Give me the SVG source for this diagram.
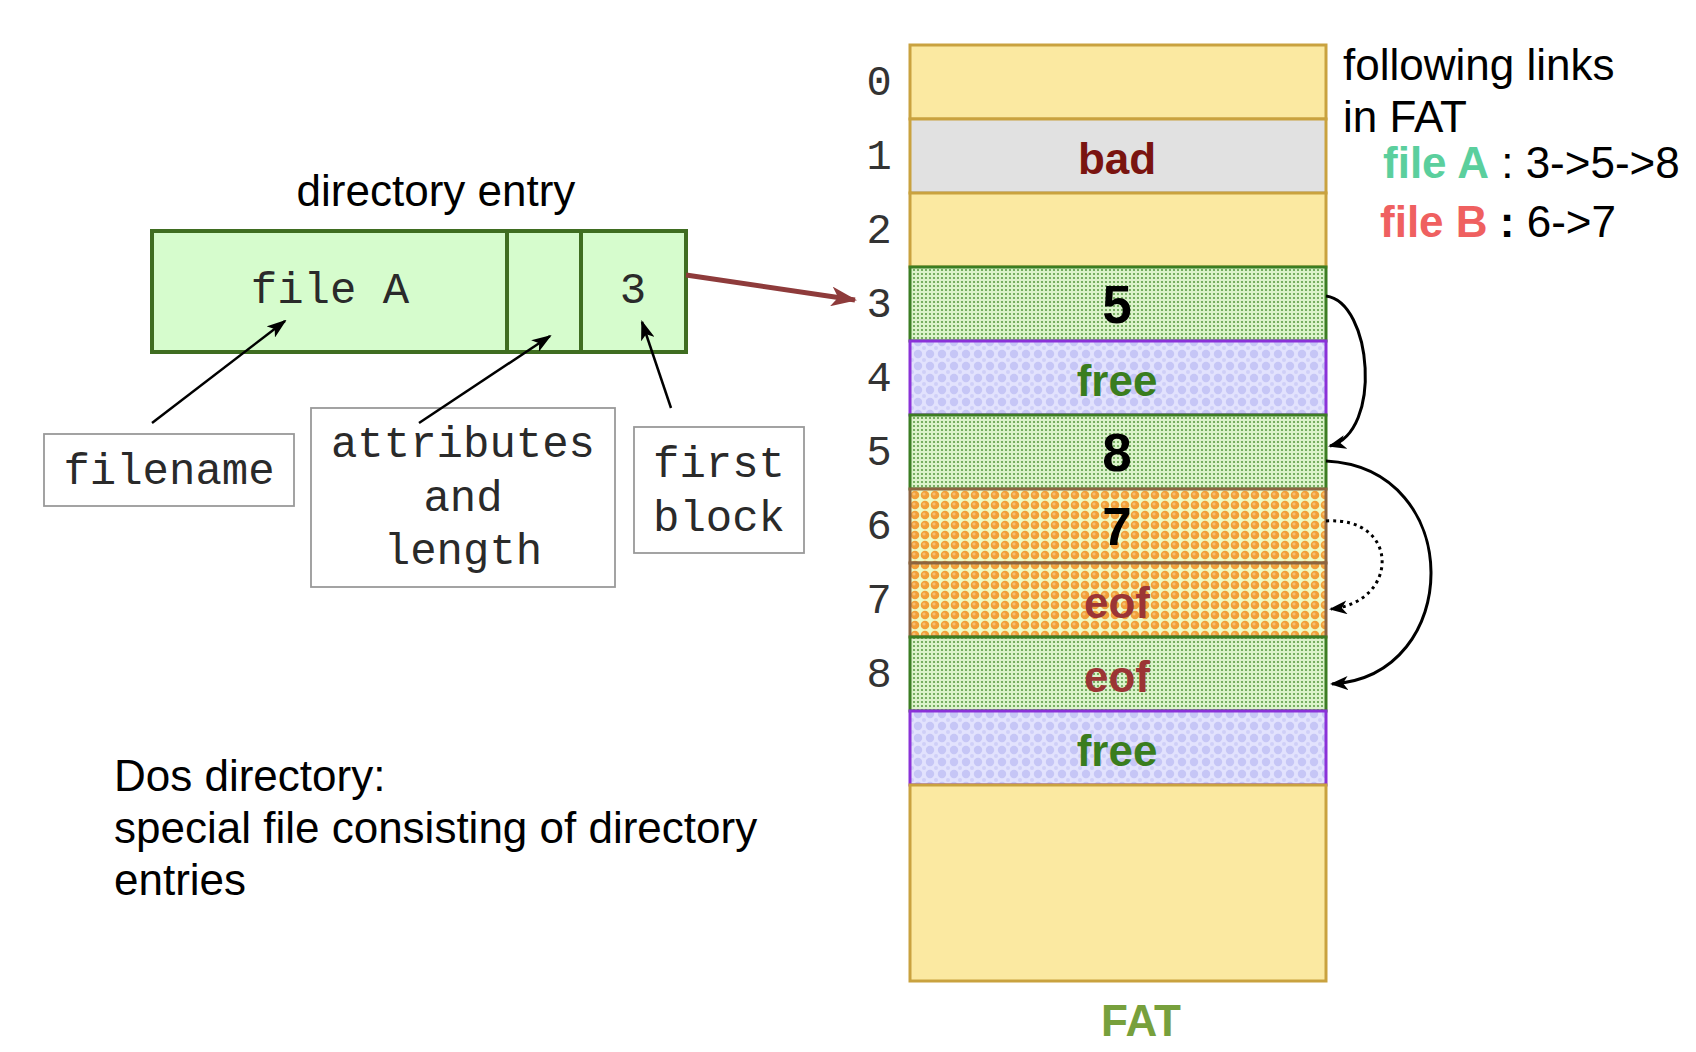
<svg xmlns="http://www.w3.org/2000/svg" width="1696" height="1052" viewBox="0 0 1696 1052">
<style>
.sans{font-family:"Liberation Sans",Arial,sans-serif;}
.mono{font-family:"Liberation Mono","Courier New",monospace;fill:#2a2a2a;}
.t44{font-size:44px;}
.cell{font-family:"Liberation Sans",Arial,sans-serif;font-weight:bold;font-size:44px;text-anchor:middle;}
.big{font-size:53px;}
.idx{font-family:"Liberation Mono","Courier New",monospace;font-size:42px;fill:#333;text-anchor:middle;}
.lbl{fill:#fff;stroke:#999;stroke-width:1.8;}
.yel{fill:#fbe9a1;stroke:#c9a23f;stroke-width:3;}
.grn{fill:url(#pGreen);stroke:#3b7d22;stroke-width:3;}
.fre{fill:url(#pFree);stroke:#8a32d8;stroke-width:3;}
.org{fill:url(#pOrange);stroke:#8b6440;stroke-width:3;}
.ptr{fill:none;stroke:#000;stroke-width:2.5;}
.curve{fill:none;stroke:#000;stroke-width:3;}
</style>
<defs>
<pattern id="pGreen" width="4" height="4" patternUnits="userSpaceOnUse">
<rect width="4" height="4" fill="#dcf3cb"/>
<circle cx="2" cy="2" r="1.1" fill="#5e9e48"/>
</pattern>
<pattern id="pFree" width="12" height="12" patternUnits="userSpaceOnUse">
<rect width="12" height="12" fill="#e2e2fd"/>
<circle cx="6" cy="6" r="4.2" fill="#c6c6f6"/>
<circle cx="0" cy="0" r="2" fill="#cfcff8"/>
<circle cx="12" cy="0" r="2" fill="#cfcff8"/>
<circle cx="0" cy="12" r="2" fill="#cfcff8"/>
<circle cx="12" cy="12" r="2" fill="#cfcff8"/>
</pattern>
<pattern id="pOrange" width="10" height="10" patternUnits="userSpaceOnUse">
<rect width="10" height="10" fill="#eefbc6"/>
<circle cx="5" cy="5" r="4.3" fill="#f2a03a"/>
<circle cx="4" cy="4" r="1.6" fill="#f7be70"/>
</pattern>
<marker id="ahB" viewBox="0 0 20 14" refX="18" refY="7" markerWidth="20" markerHeight="14" markerUnits="userSpaceOnUse" orient="auto">
<path d="M0,0 L20,7 L0,14 L5,7 z" fill="#000"/>
</marker>
<marker id="ahC" viewBox="0 0 18 14" refX="16" refY="7" markerWidth="18" markerHeight="14" markerUnits="userSpaceOnUse" orient="auto">
<path d="M0,0 L18,7 L0,14 L5,7 z" fill="#000"/>
</marker>
<marker id="ahR" viewBox="0 0 26 20" refX="24" refY="10" markerWidth="26" markerHeight="20" markerUnits="userSpaceOnUse" orient="auto">
<path d="M0,0 L26,10 L0,20 L7,10 z" fill="#8e3b3b"/>
</marker>
</defs>
<rect width="1696" height="1052" fill="#fff"/>

<g id="title-dir">
<text class="sans t44" x="436" y="206" text-anchor="middle">directory entry</text>
</g>

<g id="dir-entry">
<rect x="152" y="231" width="534" height="121" fill="#d6fccd" stroke="#3f6d21" stroke-width="4"/>
<line x1="507" y1="231" x2="507" y2="352" stroke="#3f6d21" stroke-width="4"/>
<line x1="581" y1="231" x2="581" y2="352" stroke="#3f6d21" stroke-width="4"/>
<text class="mono t44" x="330" y="303" text-anchor="middle">file A</text>
<text class="mono t44" x="633" y="303" text-anchor="middle">3</text>
</g>

<g id="label-filename">
<rect class="lbl" x="44" y="434" width="250" height="72"/>
<text class="mono t44" x="169" y="484" text-anchor="middle">filename</text>
</g>
<g id="label-attributes">
<rect class="lbl" x="311" y="408" width="304" height="179"/>
<text class="mono t44" x="463" y="457" text-anchor="middle">attributes</text>
<text class="mono t44" x="463" y="511" text-anchor="middle">and</text>
<text class="mono t44" x="463" y="564" text-anchor="middle">length</text>
</g>
<g id="label-firstblock">
<rect class="lbl" x="634" y="427" width="170" height="126"/>
<text class="mono t44" x="719" y="477" text-anchor="middle">first</text>
<text class="mono t44" x="719" y="531" text-anchor="middle">block</text>
</g>

<g id="fat">
<rect class="yel" x="910" y="45" width="416" height="74"/>
<rect x="910" y="119" width="416" height="74" fill="#e1e1e1" stroke="#c9a23f" stroke-width="3"/>
<line x1="912" y1="192" x2="1324" y2="192" stroke="#c4c4c4" stroke-width="2"/>
<rect class="yel" x="910" y="193" width="416" height="74"/>
<rect class="grn" x="910" y="267" width="416" height="74"/>
<rect class="fre" x="910" y="341" width="416" height="74"/>
<rect class="grn" x="910" y="415" width="416" height="74"/>
<rect class="org" x="910" y="489" width="416" height="74"/>
<rect class="org" x="910" y="563" width="416" height="74"/>
<rect class="grn" x="910" y="637" width="416" height="74"/>
<rect class="fre" x="910" y="711" width="416" height="74"/>
<rect class="yel" x="910" y="785" width="416" height="196"/>
<text class="cell" x="1117" y="174" fill="#7a1410">bad</text>
<text class="cell big" x="1117" y="323" fill="#000">5</text>
<text class="cell" x="1117" y="396" fill="#3a7d1e">free</text>
<text class="cell big" x="1117" y="471" fill="#000">8</text>
<text class="cell big" x="1117" y="545" fill="#000">7</text>
<text class="cell" x="1117" y="618" fill="#9b3535">eof</text>
<text class="cell" x="1117" y="692" fill="#9b3535">eof</text>
<text class="cell" x="1117" y="766" fill="#3a7d1e">free</text>
</g>

<g id="fat-index">
<text class="idx" x="879" y="95">0</text>
<text class="idx" x="879" y="169">1</text>
<text class="idx" x="879" y="243">2</text>
<text class="idx" x="879" y="317">3</text>
<text class="idx" x="879" y="391">4</text>
<text class="idx" x="879" y="465">5</text>
<text class="idx" x="879" y="539">6</text>
<text class="idx" x="879" y="613">7</text>
<text class="idx" x="879" y="687">8</text>
</g>

<g id="fat-label">
<text class="cell" x="1141" y="1036" fill="#77a03c">FAT</text>
</g>

<g id="links-text">
<text class="sans t44" x="1343" y="80">following links</text>
<text class="sans t44" x="1343" y="132">in FAT</text>
<text class="sans t44" x="1383" y="178"><tspan font-weight="bold" fill="#5bcf9d">file A</tspan> : 3-&gt;5-&gt;8</text>
<text class="sans t44" x="1380" y="237"><tspan font-weight="bold" fill="#ef6060">file B</tspan><tspan font-weight="bold"> :</tspan> 6-&gt;7</text>
</g>

<g id="dos-text">
<text class="sans t44" x="114" y="791">Dos directory:</text>
<text class="sans t44" x="114" y="843">special file consisting of directory</text>
<text class="sans t44" x="114" y="895">entries</text>
</g>

<g id="connectors">
<line class="ptr" x1="152" y1="423" x2="285" y2="321" marker-end="url(#ahB)"/>
<line class="ptr" x1="419" y1="423" x2="550" y2="336" marker-end="url(#ahB)"/>
<line class="ptr" x1="671" y1="408" x2="642" y2="322" marker-end="url(#ahB)"/>
<line x1="686" y1="275" x2="855" y2="300" stroke="#8e3b3b" stroke-width="5" marker-end="url(#ahR)"/>
<path class="curve" d="M1326,296 C1372,302 1383,432 1330,446" marker-end="url(#ahC)"/>
<path class="curve" d="M1326,461 C1466,468 1464,676 1332,684" marker-end="url(#ahC)"/>
<path class="curve" d="M1326,521 C1400,516 1400,602 1331,609" stroke-dasharray="3 4" marker-end="url(#ahC)"/>
</g>
</svg>
